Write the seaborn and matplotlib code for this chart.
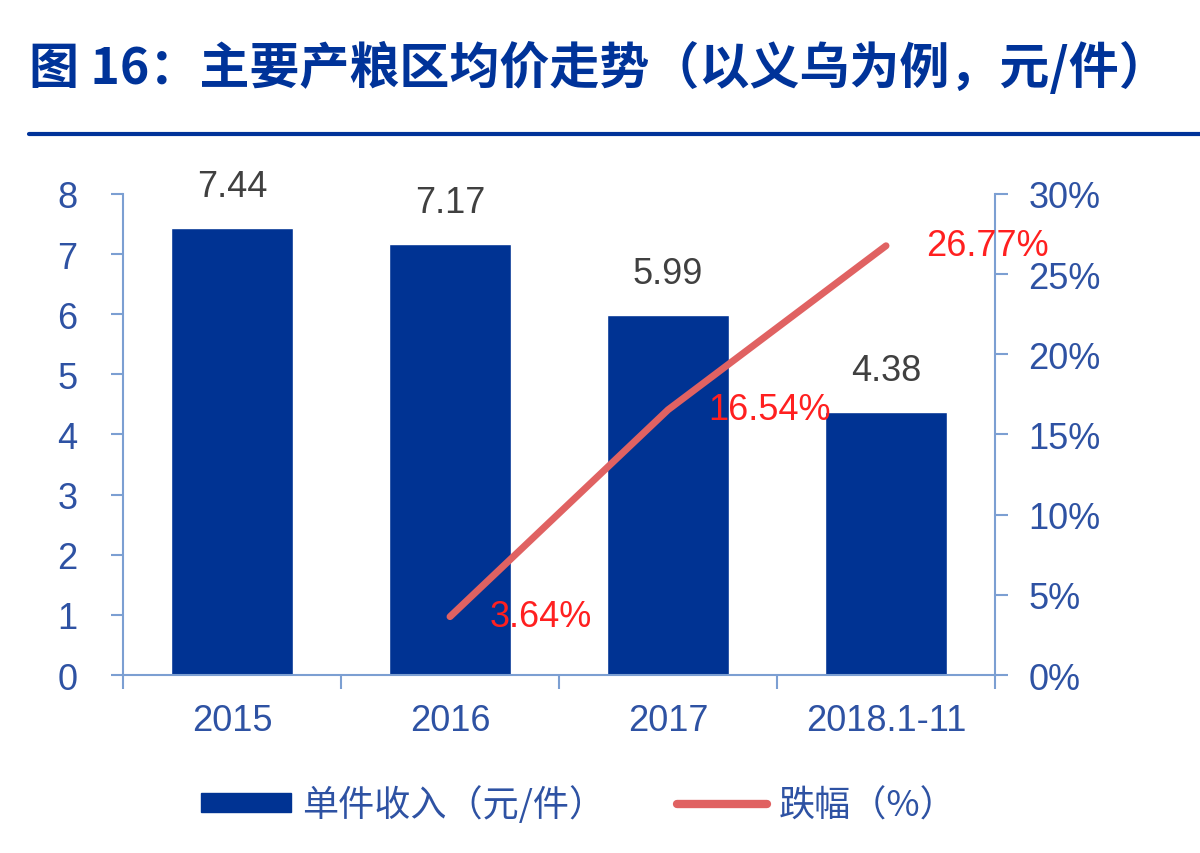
import matplotlib
matplotlib.use("Agg")
import matplotlib.pyplot as plt
import seaborn as sns
import pandas as pd
from matplotlib.patches import Patch
from matplotlib.lines import Line2D
from matplotlib.ticker import FuncFormatter, MultipleLocator

# data
years = ["2015", "2016", "2017", "2018.1-11"]
price = [7.44, 7.17, 5.99, 4.38]
drop_years = ["2016", "2017", "2018.1-11"]
drop_pct = [3.64, 16.54, 26.77]

BLUE = "#003393"
RED = "#E06262"
TICK = "#2E52A3"
SPINE = "#7C9FD2"

sns.set_theme(style="white")
plt.rcParams["font.family"] = ["Liberation Sans", "Noto Sans CJK SC", "DejaVu Sans"]

fig = plt.figure(figsize=(12, 8.54), dpi=100)
ax = fig.add_axes([0.1025, 0.2084, 0.7267, 0.5633])

df = pd.DataFrame({"year": years, "price": price})
sns.barplot(data=df, x="year", y="price", color=BLUE, saturation=1, width=0.56, ax=ax)
ax.set_ylim(0, 8)
ax.yaxis.set_major_locator(MultipleLocator(1))
ax.set_xlabel("")
ax.set_ylabel("")

for i, v in enumerate(price):
    ax.annotate(f"{v:.2f}", (i, v), xytext=(0, 24), textcoords="offset pixels",
                ha="center", va="bottom", fontsize=26, color="#404040")

ax2 = ax.twinx()
pos = [years.index(y) for y in drop_years]
dl = pd.DataFrame({"x": pos, "pct": drop_pct})
sns.lineplot(data=dl, x="x", y="pct", color=RED, linewidth=5, ax=ax2,
             solid_capstyle="round")
ax2.set_ylim(0, 30)
ax2.set_ylabel("")
ax2.yaxis.set_major_locator(MultipleLocator(5))
ax2.yaxis.set_major_formatter(FuncFormatter(lambda v, p: f"{v:.0f}%"))
for x, v in zip(pos, drop_pct):
    ax2.annotate(f"{v:.2f}%", (x, v), xytext=(40, 0), textcoords="offset pixels",
                 ha="left", va="center", fontsize=26, color="#FF2020")

# axes styling
for a in (ax, ax2):
    for s in a.spines.values():
        s.set_visible(False)
ax.spines["left"].set_visible(True)
ax.spines["bottom"].set_visible(True)
ax2.spines["right"].set_visible(True)
for s in (ax.spines["left"], ax.spines["bottom"], ax2.spines["right"]):
    s.set_color(SPINE)
    s.set_linewidth(1.5)

ax.tick_params(axis="y", direction="out", length=9, width=1.5, color=SPINE,
               labelcolor=TICK, labelsize=26, pad=24, left=True)
ax2.tick_params(axis="y", direction="out", length=9, width=1.5, color=SPINE,
                labelcolor=TICK, labelsize=26, pad=15, right=True)
ax.set_xticks(range(len(years)))
ax.set_xticklabels(years)
ax.set_xticks([-0.5, 0.5, 1.5, 2.5, 3.5], minor=True)
ax.tick_params(axis="x", which="major", length=0, labelcolor=TICK, labelsize=26, pad=20)
ax.tick_params(axis="x", which="minor", direction="out", length=10, width=1.5,
               color=SPINE, bottom=True)
ax.set_xlim(-0.5, 3.5)

# title and rule
fig.text(0.024, 0.92, "图 16：主要产粮区均价走势（以义乌为例，元/件）",
         fontsize=36, fontweight="bold", color="#003399", va="center", ha="left",
         family=["Noto Sans CJK SC", "DejaVu Sans"])
fig.add_artist(Line2D([0.024, 1.0], [0.842, 0.842], color="#003399", linewidth=3,
                      transform=fig.transFigure))

handles = [Patch(facecolor=BLUE, edgecolor=BLUE),
           Line2D([0], [0], color=RED, linewidth=6, solid_capstyle="round")]
fig.legend(handles, ["单件收入（元/件）", "跌幅（%）"], loc="center",
           bbox_to_anchor=(0.482, 0.057), ncol=2, frameon=False,
           prop={"family": ["Noto Sans CJK SC", "DejaVu Sans"], "size": 26},
           labelcolor=TICK, handlelength=2.5, handleheight=0.45,
           handletextpad=0.3, columnspacing=2.0)

fig.savefig("out.png", dpi=100)
